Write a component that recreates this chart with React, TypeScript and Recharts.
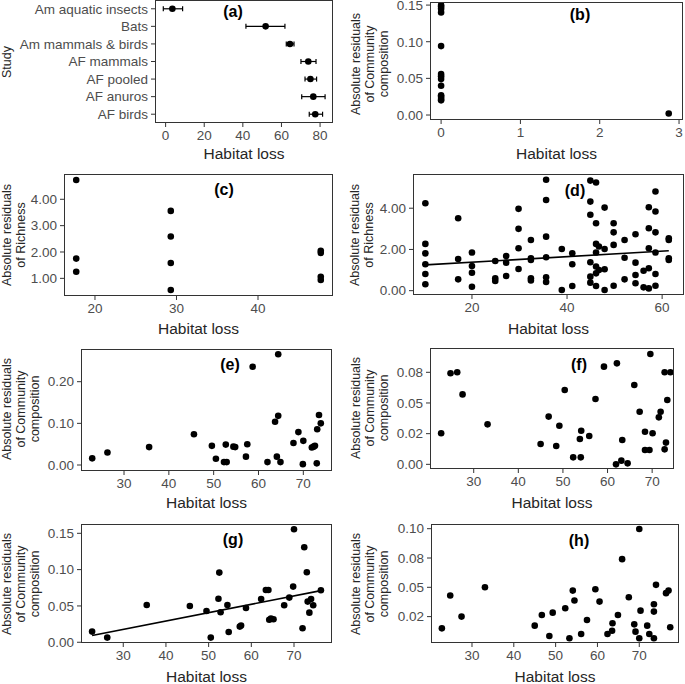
import React from 'react'
import { ErrorBar, Scatter, ScatterChart, XAxis, YAxis } from 'recharts'

const FONT = '"Liberation Sans", Arial, Helvetica, sans-serif'

// (a) habitat loss per study, mean with interval
const studies = ['Am aquatic insects', 'Bats', 'Am mammals & birds', 'AF mammals', 'AF pooled', 'AF anuros', 'AF birds']
const aMean = [3.5, 51.8, 64.4, 73.9, 75.0, 76.5, 77.5]
const aLow = [-1.2, 41.6, 62.5, 70.1, 72.2, 70.5, 74.4]
const aHigh = [8.8, 61.8, 66.5, 77.9, 78.2, 82.6, 81.3]

// (b)
const bX = [0, 0, 0, 0, 0, 0, 0, 0, 0, 0, 0, 0, 0, 2.87]
const bY = [0.15, 0.148, 0.145, 0.14, 0.094, 0.056, 0.053, 0.049, 0.04, 0.027, 0.025, 0.022, 0.02, 0.002]

// (c)
const cX = [17.7, 17.7, 17.7, 29.3, 29.3, 29.3, 29.3, 47.7, 47.7, 47.7, 47.7]
const cY = [4.73, 1.75, 1.25, 3.56, 2.59, 1.58, 0.56, 2.05, 1.96, 1.06, 0.94]

// (d)
const dX = [
  10.2, 10.2, 10.2, 10.2, 10.2, 10.2, 17.1, 17.1, 17.1, 20, 20, 20, 20, 24.9, 24.9, 24.9,
  27.2, 27.2, 27.2, 29.8, 29.8, 29.8, 29.8, 32.4, 32.4, 32.4, 32.4, 32.4,
  35.6, 35.6, 35.6, 35.6, 35.6, 35.6, 38.9, 38.9, 41.1, 41.1, 41.1,
  44.9, 44.9, 44.9, 44.9, 44.9, 44.9, 46.1, 46.1, 46.1, 46.1, 46.1, 46.1, 46.1, 46.7, 46.7,
  47.9, 47.9, 47.9, 47.9, 49.8, 49.8, 49.8, 49.8, 52.1, 52.1, 52.1, 54.4, 54.4, 54.4, 54.4,
  56.1, 56.1, 57.2, 57.2, 57.2, 57.2, 57.2, 58.6, 58.6, 58.6, 58.6, 58.6, 58.6,
  61.4, 61.4, 61.4, 61.4,
]
const dY = [
  4.24, 2.27, 1.81, 1.28, 0.81, 0.31, 3.51, 1.54, 0.55, 1.85, 1.2, 0.87, 0.19, 1.44, 0.6, 0.47,
  1.68, 1.36, 0.71, 3.97, 3.0, 2.06, 1.05, 2.46, 1.57, 1.49, 0.6, 0.49,
  5.38, 4.4, 2.62, 1.62, 0.65, 0.42, 2.02, 0.03, 1.81, 1.28, 0.23,
  5.34, 4.32, 3.68, 1.38, 0.68, 0.39, 5.25, 3.27, 2.27, 1.85, 1.17, 0.84, 0.23, 2.14, 1.0,
  4.03, 2.02, 1.04, 0.03, 3.27, 2.83, 2.22, 0.24, 2.46, 1.6, 0.55, 2.74, 1.36, 0.76, 0.36,
  0.97, 0.16, 4.05, 3.03, 2.06, 1.09, 0.11, 4.81, 3.84, 2.83, 1.85, 0.81, 0.24,
  2.54, 2.46, 1.57, 1.49,
]
const dFitX = [10.2, 61.4]
const dFitY = [1.25, 1.94]

// (e)
const eX = [22.9, 26.3, 35.6, 45.6, 49.6, 50.5, 52.3, 52.9, 52.7, 54.4, 54.8, 57.2, 57.5, 58.7, 62.0, 63.7,
  64.1, 64.4, 64.4, 64.9, 67.8, 68.9, 69.9, 70.0, 71.9, 72.3, 72.6, 73.0, 73.1, 73.5, 73.9]
const eY = [0.016, 0.03, 0.043, 0.074, 0.046, 0.015, 0.007, 0.007, 0.049, 0.044, 0.043, 0.02, 0.05, 0.236, 0.007, 0.104,
  0.02, 0.266, 0.118, 0.007, 0.053, 0.079, 0.002, 0.058, 0.042, 0.044, 0.046, 0.004, 0.086, 0.12, 0.1]

// (f)
const fX = [22.7, 24.8, 26.3, 27.5, 33.1, 45.0, 46.8, 48.5, 49.2, 50.4, 52.3, 53.8, 54.0, 54.1, 55.9, 57.3, 59.2,
  61.9, 62.1, 63.1, 63.3, 64.5, 66.0, 67.2, 68.4, 68.4, 69.4, 69.6, 70.1, 71.5, 71.9, 72.8, 74.1, 72.8, 73.1, 73.4]
const fY = [0.0253, 0.0742, 0.075, 0.057, 0.0326, 0.0166, 0.0389, 0.0149, 0.0315, 0.0606, 0.0057, 0.0207, 0.0057, 0.0274,
  0.0231, 0.0533, 0.0796, 0.0, 0.0823, 0.003, 0.0198, 0.0008, 0.0647, 0.0429, 0.0266, 0.0117, 0.0117, 0.0899, 0.0253,
  0.0383, 0.0429, 0.075, 0.075, 0.0122, 0.0177, 0.0524]

// (g)
const gX = [22.7, 26.25, 35.5, 45.6, 49.5, 50.5, 52.3, 52.5, 52.8, 54.4, 54.7, 57.3, 57.6, 58.75, 62.3, 63.4, 64.0,
  64.2, 64.6, 65.2, 67.7, 68.9, 69.8, 70.0, 72.0, 72.4, 73.0, 73.2, 73.6, 74.0, 74.5, 76.3]
const gY = [0.0147, 0.0064, 0.0514, 0.05, 0.043, 0.0064, 0.06, 0.0959, 0.0413, 0.0514, 0.0142, 0.0216, 0.023, 0.0472,
  0.0596, 0.072, 0.072, 0.031, 0.0326, 0.0317, 0.051, 0.0615, 0.0766, 0.1555, 0.0193, 0.1307, 0.0963, 0.056, 0.0408,
  0.0596, 0.051, 0.0716]
const gFitX = [22.7, 76.3]
const gFitY = [0.0092, 0.0711]

// (h)
const hX = [22.8, 24.8, 27.5, 33.1, 45.0, 46.7, 48.5, 49.3, 52.3, 53.3, 54.1, 54.5, 56.1, 57.5, 59.5, 60.5, 62.4,
  63.5, 63.6, 64.9, 65.9, 67.5, 68.8, 69.1, 70.0, 70.0, 70.3, 71.9, 72.4, 73.5, 73.5, 73.5, 74.0, 76.4, 77.0, 77.4]
const hY = [0.015, 0.043, 0.025, 0.05, 0.0173, 0.0264, 0.0085, 0.0284, 0.0321, 0.0065, 0.0472, 0.0387, 0.0102, 0.0221,
  0.0484, 0.0378, 0.0102, 0.013, 0.0193, 0.0264, 0.074, 0.0415, 0.0184, 0.0122, 0.0065, 0.0997, 0.0301, 0.0173, 0.0102,
  0.0355, 0.0293, 0.0065, 0.0521, 0.045, 0.0472, 0.0159]

// tick labels
const tHab = [30, 40, 50, 60, 70]
const tComp3 = [0, 0.05, 0.1, 0.15]
const lComp3 = ['0.00', '0.05', '0.10', '0.15']
const tF = [0, 0.025, 0.05, 0.075]
const lF = ['0.00', '0.02', '0.05', '0.08']
const tH = [0.025, 0.05, 0.075, 0.1]
const lH = ['0.02', '0.05', '0.08', '0.10']

const COMP = ['Absolute residuals', 'of Community', 'composition']
const RICH = ['Absolute residuals', 'of Richness']

const rows = (xs: number[], ys: number[]) => xs.map((x, i) => ({ x, y: ys[i] }))

const Dot = (p: any) => <circle cx={p.cx} cy={p.cy} r={3.3} fill="#000" />
const NoDot = () => <g />

const tickStyle = { fill: '#4d4d4d', fontSize: 13.5, fontFamily: FONT }

function Panel(props: any) {
  const { px, py, w, h, box, xDomain, xTicks, yDomain, yTicks, yLabels, yCategory,
    tag, tagAt, yTitle, yTitleAt, xTitleY, children } = props
  const [bx, by, bw, bh] = box
  const top = by - py
  const left = bx - px
  const right = px + w - (bx + bw)
  const bottom = py + h - (by + bh)
  const fmtY = (v: any) => {
    if (!yLabels) return String(v)
    const i = yTicks.indexOf(v)
    return i >= 0 ? yLabels[i] : String(v)
  }
  return (
    <>
      <div style={{ position: 'absolute', left: px, top: py }}>
        <ScatterChart width={w} height={h} margin={{ top, right, bottom: 0, left: 0 }}>
          <XAxis type="number" dataKey="x" domain={xDomain} ticks={xTicks} allowDataOverflow interval={0}
            height={bottom} axisLine={false} tickSize={4} tickMargin={3}
            tickLine={{ stroke: '#333' }} tick={tickStyle} />
          {yCategory ? (
            <YAxis type="category" dataKey="y" width={left} reversed interval={0} axisLine={false}
              tickSize={4} tickMargin={3} tickLine={{ stroke: '#333' }} tick={tickStyle} />
          ) : (
            <YAxis type="number" dataKey="y" domain={yDomain} ticks={yTicks} allowDataOverflow interval={0}
              width={left} axisLine={false} tickSize={4} tickMargin={3} tickFormatter={fmtY}
              tickLine={{ stroke: '#333' }} tick={tickStyle} />
          )}
          {children}
        </ScatterChart>
      </div>
      <div style={{
        position: 'absolute', left: bx, top: by, width: bw, height: bh, boxSizing: 'border-box',
        border: '1px solid #333', pointerEvents: 'none',
      }} />
      <div style={{
        position: 'absolute', left: tagAt[0], top: tagAt[1], transform: 'translate(-50%,-50%)',
        fontFamily: FONT, fontWeight: 'bold', fontSize: 16, lineHeight: 1, color: '#000', whiteSpace: 'nowrap',
      }}>{tag}</div>
      <div style={{
        position: 'absolute', left: bx + bw / 2, top: xTitleY, transform: 'translate(-50%,-50%)',
        fontFamily: FONT, fontSize: 15.5, fontWeight: 'normal', lineHeight: 1, color: '#262626', whiteSpace: 'nowrap',
      }}>Habitat loss</div>
      <div style={{
        position: 'absolute', left: yTitleAt[0], top: yTitleAt[1],
        transform: 'translate(-50%,-50%) rotate(-90deg)', fontFamily: FONT, fontSize: 12.5,
        lineHeight: '14px', color: '#262626', whiteSpace: 'nowrap', textAlign: 'center',
      }}>
        {yTitle.map((t: string) => <div key={t}>{t}</div>)}
      </div>
    </>
  )
}

const aRows = studies.map((s, i) => ({ x: aMean[i], y: s, err: [aMean[i] - aLow[i], aHigh[i] - aMean[i]] }))

export default function App() {
  return (
    <div style={{ position: 'absolute', left: 0, top: 0, width: 685, height: 684, background: '#fff' }}>
      <Panel px={0} py={0} w={342} h={170} box={[155, 0, 178, 123]} xDomain={[-5.5, 86.7]} xTicks={[0, 20, 40, 60, 80]}
        yCategory tag="(a)" tagAt={[233, 12]} yTitle={['Study']} yTitleAt={[7, 62]} xTitleY={154}>
        <Scatter data={aRows} shape={Dot} isAnimationActive={false}>
          <ErrorBar dataKey="err" direction="x" width={2.5} stroke="#000" strokeWidth={1.2} isAnimationActive={false} />
        </Scatter>
      </Panel>

      <Panel px={342} py={0} w={343} h={170} box={[430, 2, 253, 118]} xDomain={[-0.14, 3.05]} xTicks={[0, 1, 2, 3]}
        yDomain={[-0.0068, 0.1542]} yTicks={tComp3} yLabels={lComp3}
        tag="(b)" tagAt={[580, 15]} yTitle={COMP} yTitleAt={[369.5, 64]} xTitleY={154}>
        <Scatter data={rows(bX, bY)} shape={Dot} isAnimationActive={false} />
      </Panel>

      <Panel px={0} py={170} w={342} h={170} box={[64, 174, 269, 122]} xDomain={[16.2, 49.2]} xTicks={[20, 30, 40]}
        yDomain={[0.33, 4.96]} yTicks={[1, 2, 3, 4]} yLabels={['1.00', '2.00', '3.00', '4.00']}
        tag="(c)" tagAt={[224, 190]} yTitle={RICH} yTitleAt={[14, 235]} xTitleY={329}>
        <Scatter data={rows(cX, cY)} shape={Dot} isAnimationActive={false} />
      </Panel>

      <Panel px={342} py={170} w={343} h={170} box={[413, 174, 271, 121]} xDomain={[7.6, 64.6]} xTicks={[20, 40, 60]}
        yDomain={[-0.21, 5.66]} yTicks={[0, 2, 4]} yLabels={['0.00', '2.00', '4.00']}
        tag="(d)" tagAt={[575, 191]} yTitle={RICH} yTitleAt={[362, 235]} xTitleY={329}>
        <Scatter data={rows(dX, dY)} shape={Dot} isAnimationActive={false} />
        <Scatter data={rows(dFitX, dFitY)} shape={NoDot} line={{ stroke: '#000', strokeWidth: 1.6 }} isAnimationActive={false} />
      </Panel>

      <Panel px={0} py={340} w={342} h={170} box={[81, 349, 251, 122]} xDomain={[20.4, 76.4]} xTicks={tHab}
        yDomain={[-0.0144, 0.2785]} yTicks={[0, 0.1, 0.2]} yLabels={['0.00', '0.10', '0.20']}
        tag="(e)" tagAt={[230, 365]} yTitle={COMP} yTitleAt={[20.5, 409]} xTitleY={503}>
        <Scatter data={rows(eX, eY)} shape={Dot} isAnimationActive={false} />
      </Panel>

      <Panel px={342} py={340} w={343} h={170} box={[430, 348, 244, 121]} xDomain={[20.2, 74.9]} xTicks={tHab}
        yDomain={[-0.0038, 0.0948]} yTicks={tF} yLabels={lF}
        tag="(f)" tagAt={[579, 365]} yTitle={COMP} yTitleAt={[369.5, 408]} xTitleY={503}>
        <Scatter data={rows(fX, fY)} shape={Dot} isAnimationActive={false} />
      </Panel>

      <Panel px={0} py={510} w={342} h={174} box={[81, 524, 251, 119]} xDomain={[20.1, 78.9]} xTicks={tHab}
        yDomain={[-0.001, 0.1628]} yTicks={tComp3} yLabels={lComp3}
        tag="(g)" tagAt={[233, 540]} yTitle={COMP} yTitleAt={[20.5, 584]} xTitleY={677}>
        <Scatter data={rows(gX, gY)} shape={Dot} isAnimationActive={false} />
        <Scatter data={rows(gFitX, gFitY)} shape={NoDot} line={{ stroke: '#000', strokeWidth: 1.6 }} isAnimationActive={false} />
      </Panel>

      <Panel px={342} py={510} w={343} h={174} box={[431, 524, 248, 119]} xDomain={[20.2, 79.5]} xTicks={tHab}
        yDomain={[0.0025, 0.104]} yTicks={tH} yLabels={lH}
        tag="(h)" tagAt={[579, 541]} yTitle={COMP} yTitleAt={[369.5, 584]} xTitleY={677}>
        <Scatter data={rows(hX, hY)} shape={Dot} isAnimationActive={false} />
      </Panel>
    </div>
  )
}
